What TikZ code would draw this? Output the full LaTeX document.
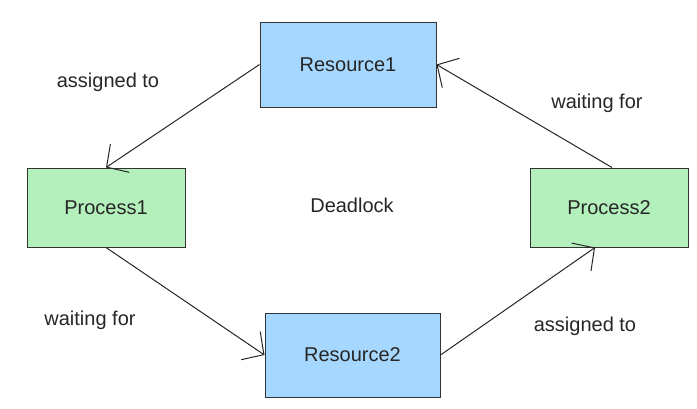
\documentclass[tikz,border=0pt]{standalone}
\usepackage{fontspec}
\setmainfont{Liberation Sans}
\usetikzlibrary{arrows.meta}
\definecolor{res}{HTML}{A6D8FF}
\definecolor{proc}{HTML}{B3F0BB}
\begin{document}
\begin{tikzpicture}[x=1pt,y=-1pt,
  box/.style={draw=black!80,line width=1pt,inner sep=0pt},
  lbl/.style={font=\fontsize{20}{24}\selectfont,text=black!85},
  arr/.style={draw=black!85,line width=1pt,-{Straight Barb[length=16pt,width=34pt,line width=1pt]}}]
\useasboundingbox (0,0) rectangle (697,408);
\node[box,fill=res,minimum width=176pt,minimum height=85pt,lbl] (r1) at (348,64.5) {Resource1};
\node[box,fill=proc,minimum width=158pt,minimum height=79pt,lbl] (p1) at (106,207.5) {Process1};
\node[box,fill=proc,minimum width=158pt,minimum height=79pt,lbl] (p2) at (609,207.5) {Process2};
\node[box,fill=res,minimum width=175pt,minimum height=84pt,lbl] (r2) at (352.5,355) {Resource2};
\node[lbl] (dl) at (352,205) {Deadlock};
\node[lbl] (l1) at (108,82) {assigned to};
\node[lbl] (l2) at (90,320) {waiting for};
\node[lbl] (l3) at (585,326) {assigned to};
\node[lbl] (l4) at (597,103) {waiting for};
\draw[arr] (r1.west) -- (p1.north);
\draw[arr] (p1.south) -- (r2.west);
\draw[arr] (r2.east) -- ([xshift=-14pt]p2.south);
\draw[arr] ([xshift=3pt]p2.north) -- (r1.east);
\end{tikzpicture}
\end{document}
